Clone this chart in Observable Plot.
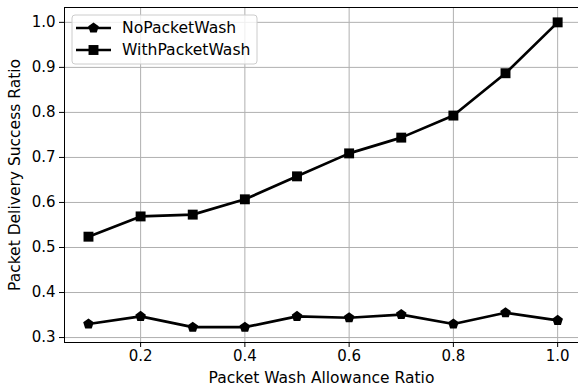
<!DOCTYPE html>
<html>
<head>
<meta charset="utf-8">
<script src="https://cdn.jsdelivr.net/npm/d3@7"></script>
<script src="https://cdn.jsdelivr.net/npm/@observablehq/plot@0.6"></script>
<style>
  html, body { margin: 0; padding: 0; background: #fff; }
  #chart svg { display: block; }
</style>
</head>
<body>
<div id="chart"></div>
<script>
const allowance = [0.1, 0.2, 0.3, 0.4, 0.5, 0.6, 0.7, 0.8, 0.9, 1.0];
const noPacketWash = [0.330, 0.347, 0.323, 0.323, 0.347, 0.344, 0.351, 0.330, 0.355, 0.338];
const withPacketWash = [0.524, 0.569, 0.573, 0.607, 0.658, 0.709, 0.744, 0.793, 0.887, 1.0];
const seriesNames = ["NoPacketWash", "WithPacketWash"];
const xTicks = [0.2, 0.4, 0.6, 0.8, 1.0];
const yTicks = [0.3, 0.4, 0.5, 0.6, 0.7, 0.8, 0.9, 1.0];
const xLabel = "Packet Wash Allowance Ratio";
const yLabel = "Packet Delivery Success Ratio";

const pentagon = {
  draw(context, size) {
    const r = Math.sqrt(size / Math.PI) * 1.05;
    for (let i = 0; i < 5; i++) {
      const a = -Math.PI / 2 + i * 2 * Math.PI / 5;
      const px = r * Math.cos(a), py = r * Math.sin(a);
      if (i === 0) context.moveTo(px, py); else context.lineTo(px, py);
    }
    context.closePath();
  }
};

const rows = [];
allowance.forEach((a, i) => {
  rows.push({x: a, y: noPacketWash[i], s: seriesNames[0]});
  rows.push({x: a, y: withPacketWash[i], s: seriesNames[1]});
});
const noRows = rows.filter(d => d.s === seriesNames[0]);
const withRows = rows.filter(d => d.s === seriesNames[1]);

const chart = Plot.plot({
  width: 578,
  height: 392,
  marginLeft: 64,
  marginRight: 0,
  marginTop: 7,
  marginBottom: 50,
  style: {fontFamily: "DejaVu Sans", fontSize: "15px", color: "#000", background: "#fff", overflow: "visible"},
  x: {domain: [0.054, 1.040]},
  y: {domain: [0.289, 1.033]},
  marks: [
    Plot.gridX(xTicks, {stroke: "#b0b0b0", strokeOpacity: 1, strokeWidth: 1}),
    Plot.gridY(yTicks, {stroke: "#b0b0b0", strokeOpacity: 1, strokeWidth: 1}),
    Plot.axisX(xTicks, {tickFormat: d3.format(".1f"), tickSize: 5, tickPadding: 3, fontSize: 15, label: null, stroke: "#000"}),
    Plot.axisY(yTicks, {tickFormat: d3.format(".1f"), tickSize: 5, tickPadding: 4, fontSize: 15, label: null, stroke: "#000"}),
    Plot.line(noRows, {x: "x", y: "y", stroke: "#000", strokeWidth: 2.7}),
    Plot.line(withRows, {x: "x", y: "y", stroke: "#000", strokeWidth: 2.7}),
    Plot.dot(noRows, {x: "x", y: "y", symbol: pentagon, r: 5.3, fill: "#000", stroke: "none"}),
    Plot.dot(withRows, {x: "x", y: "y", symbol: "square", r: 5.6, fill: "#000", stroke: "none"}),
    Plot.frame({stroke: "#000", strokeWidth: 1}),
    Plot.text([xLabel], {text: d => d, frameAnchor: "bottom", textAnchor: "middle", dy: 40, fontSize: 15.5, fill: "#000"}),
    Plot.text([yLabel], {text: d => d, frameAnchor: "left", textAnchor: "middle", dx: -49, rotate: -90, fontSize: 15.5, fill: "#000"})
  ]
});

document.getElementById("chart").appendChild(chart);

// Legend (matplotlib-style box)
const svg = d3.select(chart);
const lg = svg.append("g").attr("font-family", "DejaVu Sans").attr("font-size", 15.6).attr("text-anchor", "start");
lg.append("rect").attr("x", 72).attr("y", 15).attr("width", 185).attr("height", 49)
  .attr("rx", 3).attr("fill", "#fff").attr("fill-opacity", 0.8).attr("stroke", "#cccccc").attr("stroke-width", 1);
const entryY = [28, 50];
const syms = [d3.symbol(pentagon, Math.PI * 5.3 * 5.3)(), d3.symbol(d3.symbolSquare, Math.PI * 5.6 * 5.6)()];
seriesNames.forEach((name, i) => {
  const y = entryY[i];
  lg.append("line").attr("x1", 76).attr("x2", 111).attr("y1", y).attr("y2", y)
    .attr("stroke", "#000").attr("stroke-width", 2.7);
  lg.append("path").attr("d", syms[i]).attr("transform", `translate(93.5,${y})`).attr("fill", "#000");
  lg.append("text").attr("x", 122).attr("y", y).attr("dy", "0.35em").attr("fill", "#000").attr("text-anchor", "start").text(name);
});
</script>
</body>
</html>
